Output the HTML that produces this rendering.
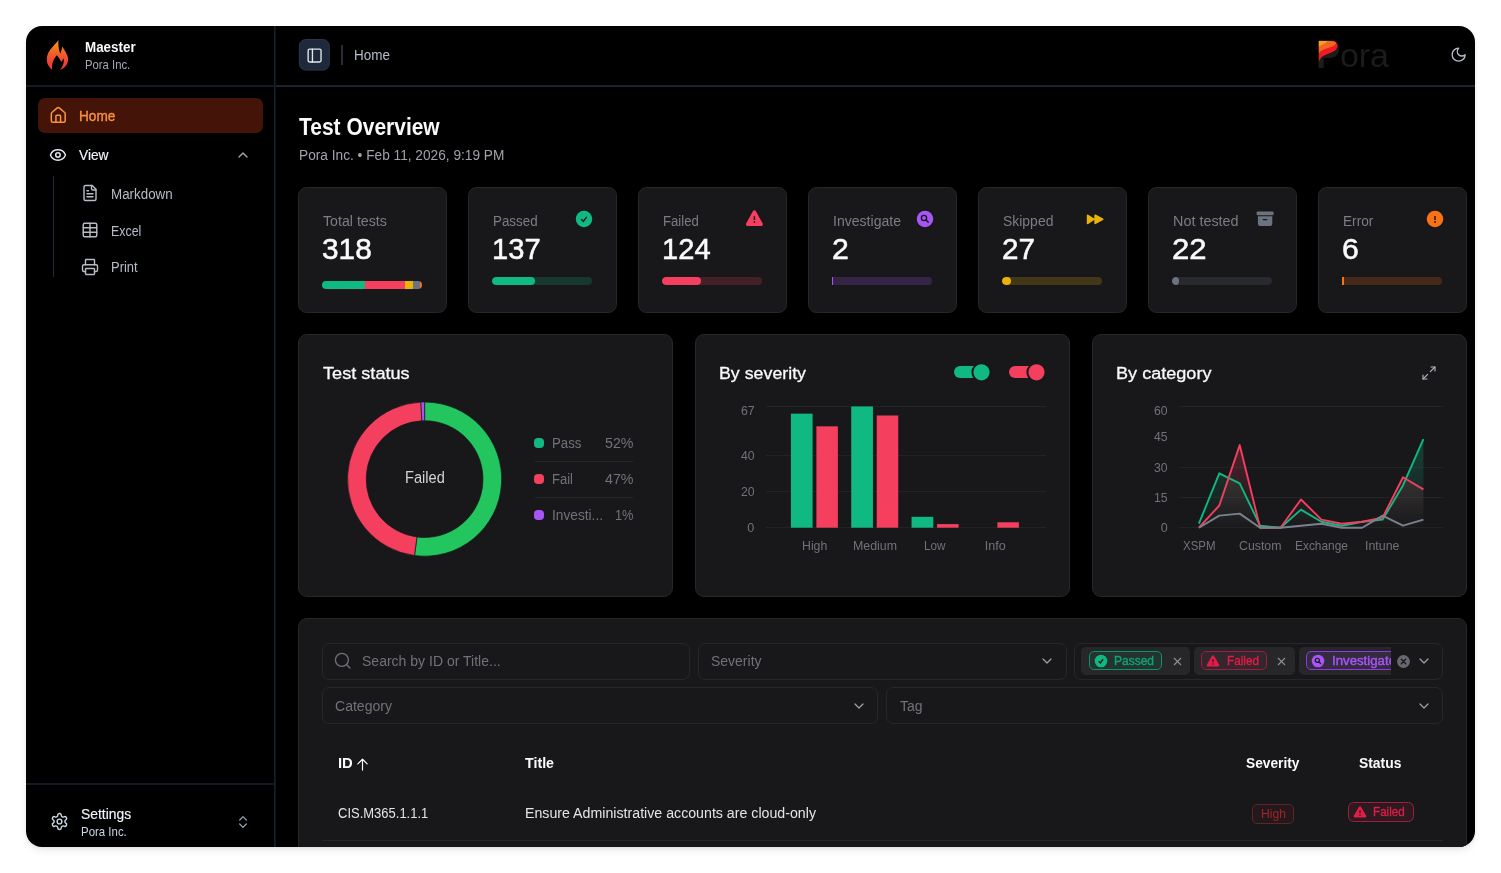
<!DOCTYPE html>
<html lang="en"><head><meta charset="utf-8"><title>Maester - Test Overview</title>
<style>
html,body{margin:0;padding:0;background:#fff;}
body{width:1501px;height:873px;position:relative;overflow:hidden;font-family:"Liberation Sans",sans-serif;}
body div,body svg,.t{position:absolute;}
.t{white-space:pre;line-height:1;transform-origin:0 0;}
svg{overflow:visible;}
</style></head><body>
<div style="left:26px;top:26px;width:1449px;height:821px;background:#000;border-radius:16px;box-shadow:0 4px 8px -1px rgba(0,0,0,.09),0 2px 4px -2px rgba(0,0,0,.09);overflow:hidden;"><div style="left:-26px;top:-26px;width:1501px;height:873px;">
<div style="left:26px;top:85px;width:248px;height:2px;background:#141a25;"></div>
<div style="left:276px;top:85px;width:1199px;height:2px;background:#1d232e;"></div>
<div style="left:26px;top:783px;width:248px;height:2px;background:#141a25;"></div>
<div style="left:274px;top:26px;width:1px;height:821px;background:#18202d;"></div>
<div style="left:275px;top:26px;width:1px;height:821px;background:#0d1119;"></div>
<svg style="left:36px;top:32px;" width="50" height="46" viewBox="0 0 949 873"><defs><linearGradient id="fg" x1="0" y1="0" x2="0" y2="1"><stop offset="0" stop-color="#f59e0b"/><stop offset=".45" stop-color="#f0602a"/><stop offset=".75" stop-color="#ef4036"/><stop offset="1" stop-color="#ef3b36"/></linearGradient></defs>
<path fill="url(#fg)" d="M425,150 C380,230 215,340 205,500 C200,600 250,680 310,718 C290,640 320,520 395,440 C430,480 465,530 480,568 C495,545 515,520 525,500 C540,590 500,680 450,720 C540,690 610,610 610,520 C610,430 540,350 500,275 C490,320 480,370 462,412 C430,340 420,240 425,150 Z"/></svg>
<span class="t" style="left:85.00px;top:41.00px;font-size:13.8px;color:#f8fafc;font-weight:700;transform:scaleX(0.9702);">Maester</span>
<span class="t" style="left:85.00px;top:59.10px;font-size:12.67px;color:#a3aab6;transform:scaleX(0.8923);">Pora Inc.</span>
<div style="left:38px;top:98px;width:225px;height:35px;background:#431407;border-radius:7px;"></div>
<svg style="left:48.95px;top:105.95px" width="18.5" height="18.5" viewBox="0 0 24 24" fill="none" stroke="#fb923c" stroke-width="2" stroke-linecap="round" stroke-linejoin="round"><path d="M15 21v-8a1 1 0 0 0-1-1h-4a1 1 0 0 0-1 1v8"/><path d="M3 10a2 2 0 0 1 .709-1.528l7-5.999a2 2 0 0 1 2.582 0l7 5.999A2 2 0 0 1 21 10v9a2 2 0 0 1-2 2H5a2 2 0 0 1-2-2z"/></svg>
<span class="t" style="left:79.20px;top:108.80px;font-size:14.73px;color:#fb923c;transform:scaleX(0.9245);-webkit-text-stroke:0.35px #fb923c;">Home</span>
<svg style="left:49.35px;top:145.75px" width="17.9" height="17.9" viewBox="0 0 24 24" fill="none" stroke="#e2e8f0" stroke-width="2" stroke-linecap="round" stroke-linejoin="round"><path d="M2.062 12.348a1 1 0 0 1 0-.696 10.75 10.75 0 0 1 19.876 0 1 1 0 0 1 0 .696 10.75 10.75 0 0 1-19.876 0"/><circle cx="12" cy="12" r="3"/></svg>
<span class="t" style="left:79.20px;top:147.60px;font-size:14.73px;color:#f1f5f9;transform:scaleX(0.9323);-webkit-text-stroke:0.15px #f1f5f9;">View</span>
<svg style="left:235px;top:146.8px" width="16" height="16" viewBox="0 0 24 24" fill="none" stroke="#a3a8b3" stroke-width="2" stroke-linecap="round" stroke-linejoin="round"><path d="m18 15-6-6-6 6"/></svg>
<div style="left:53.2px;top:176px;width:1.2px;height:101px;background:#1e293b;"></div>
<svg style="left:80.9px;top:184.3px" width="18" height="18" viewBox="0 0 24 24" fill="none" stroke="#b6bcc6" stroke-width="1.9" stroke-linecap="round" stroke-linejoin="round"><path d="M15 2H6a2 2 0 0 0-2 2v16a2 2 0 0 0 2 2h12a2 2 0 0 0 2-2V7Z"/><path d="M14 2v4a2 2 0 0 0 2 2h4"/><path d="M10 9H8"/><path d="M16 13H8"/><path d="M16 17H8"/></svg>
<span class="t" style="left:110.70px;top:186.70px;font-size:14.73px;color:#b6bcc6;transform:scaleX(0.9086);">Markdown</span>
<svg style="left:80.9px;top:221.3px" width="18" height="18" viewBox="0 0 24 24" fill="none" stroke="#b6bcc6" stroke-width="1.9" stroke-linecap="round" stroke-linejoin="round"><path d="M12 3v18"/><rect width="18" height="18" x="3" y="3" rx="2"/><path d="M3 9h18"/><path d="M3 15h18"/></svg>
<span class="t" style="left:110.70px;top:223.50px;font-size:14.73px;color:#b6bcc6;transform:scaleX(0.8417);">Excel</span>
<svg style="left:80.9px;top:258.3px" width="18" height="18" viewBox="0 0 24 24" fill="none" stroke="#b6bcc6" stroke-width="1.9" stroke-linecap="round" stroke-linejoin="round"><path d="M6 18H4a2 2 0 0 1-2-2v-5a2 2 0 0 1 2-2h16a2 2 0 0 1 2 2v5a2 2 0 0 1-2 2h-2"/><path d="M6 9V3a1 1 0 0 1 1-1h10a1 1 0 0 1 1 1v6"/><rect x="6" y="14" width="12" height="8" rx="1"/></svg>
<span class="t" style="left:110.70px;top:260.00px;font-size:14.73px;color:#b6bcc6;transform:scaleX(0.8822);">Print</span>
<svg style="left:49.7px;top:811.7px" width="19" height="19" viewBox="0 0 24 24" fill="none" stroke="#cbd5e1" stroke-width="1.8" stroke-linecap="round" stroke-linejoin="round"><path d="M12.22 2h-.44a2 2 0 0 0-2 2v.18a2 2 0 0 1-1 1.73l-.43.25a2 2 0 0 1-2 0l-.15-.08a2 2 0 0 0-2.73.73l-.22.38a2 2 0 0 0 .73 2.73l.15.1a2 2 0 0 1 1 1.72v.51a2 2 0 0 1-1 1.74l-.15.09a2 2 0 0 0-.73 2.73l.22.38a2 2 0 0 0 2.73.73l.15-.08a2 2 0 0 1 2 0l.43.25a2 2 0 0 1 1 1.73V20a2 2 0 0 0 2 2h.44a2 2 0 0 0 2-2v-.18a2 2 0 0 1 1-1.73l.43-.25a2 2 0 0 1 2 0l.15.08a2 2 0 0 0 2.73-.73l.22-.39a2 2 0 0 0-.73-2.73l-.15-.08a2 2 0 0 1-1-1.74v-.5a2 2 0 0 1 1-1.74l.15-.09a2 2 0 0 0 .73-2.73l-.22-.38a2 2 0 0 0-2.73-.73l-.15.08a2 2 0 0 1-2 0l-.43-.25a2 2 0 0 1-1-1.73V4a2 2 0 0 0-2-2z"/><circle cx="12" cy="12" r="3"/></svg>
<span class="t" style="left:81.30px;top:806.90px;font-size:14.73px;color:#f1f5f9;transform:scaleX(0.9420);-webkit-text-stroke:0.15px #f1f5f9;">Settings</span>
<span class="t" style="left:81.30px;top:825.90px;font-size:12.67px;color:#cbd5e1;transform:scaleX(0.9041);">Pora Inc.</span>
<svg style="left:235.1px;top:813.5px" width="16" height="16" viewBox="0 0 24 24" fill="none" stroke="#94a3b8" stroke-width="1.8" stroke-linecap="round" stroke-linejoin="round"><path d="m7 15 5 5 5-5"/><path d="m7 9 5-5 5 5"/></svg>
<svg style="left:298px;top:38px;" width="33" height="34" viewBox="0 0 33 34"><rect x="1.3" y="1.5" width="30" height="30.6" rx="6.5" fill="#1e293b" stroke="#2b3749" stroke-width="1"/></svg>
<svg style="left:305.6px;top:46.7px" width="17.2" height="17.2" viewBox="0 0 24 24" fill="none" stroke="#e2e8f0" stroke-width="1.9" stroke-linecap="round" stroke-linejoin="round"><rect width="18" height="18" x="3" y="3" rx="2"/><path d="M9 3v18"/></svg>
<div style="left:341px;top:45px;width:2px;height:20px;background:#262d3a;"></div>
<span class="t" style="left:354.00px;top:47.80px;font-size:14.73px;color:#b6bcc6;transform:scaleX(0.9168);">Home</span>
<span class="t" style="left:1316.2px;top:34.1px;font-size:40.6px;font-weight:700;color:#1c1c1c;transform:scaleX(.9);transform-origin:0 0;">P</span>
<span class="t" style="left:1339.90px;top:37.60px;font-size:33.99px;color:#1b1b1b;">ora</span>
<svg style="left:1310px;top:34px;" width="90" height="42" viewBox="0 0 1501 700"><path fill="#ed1c24" d="M148,116 L350,116 C420,116 460,150 460,200 C455,260 400,300 330,320 C230,350 180,380 148,460 Z"/>
<path fill="#f26522" d="M148,116 L350,116 C400,116 430,130 440,150 C420,190 380,210 300,235 C220,260 175,280 148,320 Z"/>
<path fill="#f9a01b" d="M148,116 L270,116 C280,120 285,125 290,130 C250,160 190,170 148,215 Z"/></svg>
<svg style="left:1449.55px;top:46.25px" width="17.3" height="17.3" viewBox="0 0 24 24" fill="none" stroke="#b4b9c6" stroke-width="1.9" stroke-linecap="round" stroke-linejoin="round"><path d="M12 3a6 6 0 0 0 9 9 9 9 0 1 1-9-9Z"/></svg>
<span class="t" style="left:299.40px;top:114.50px;font-size:23.9px;color:#fafafa;font-weight:700;transform:scaleX(0.8780);">Test Overview</span>
<span class="t" style="left:299.40px;top:147.50px;font-size:14.73px;color:#a1a1aa;transform:scaleX(0.9299);">Pora Inc. • Feb 11, 2026, 9:19 PM</span>
<div style="left:298px;top:187px;width:148.5px;height:125.5px;background:#18181b;border:1px solid #27272a;border-radius:8.5px;box-sizing:border-box;"></div>
<span class="t" style="left:322.60px;top:214.40px;font-size:14.73px;color:#7c7c86;transform:scaleX(0.9643);">Total tests</span>
<span class="t" style="left:322.00px;top:234.00px;font-size:30.18px;color:#fafafa;transform:scaleX(0.9872);-webkit-text-stroke:0.55px #fafafa;">318</span>
<div style="left:322px;top:281px;width:100.3px;height:8px;border-radius:4px;overflow:hidden;"><div style="left:0px;top:0;width:43.6px;height:8px;background:#10b981"></div><div style="left:43.3px;top:0;width:39.5px;height:8px;background:#f43f5e"></div><div style="left:82.5px;top:0;width:9.1px;height:8px;background:#eab308"></div><div style="left:91.3px;top:0;width:7.2px;height:8px;background:#6b7280"></div><div style="left:98.2px;top:0;width:2.4px;height:8px;background:#f97316"></div></div>
<div style="left:468px;top:187px;width:148.5px;height:125.5px;background:#18181b;border:1px solid #27272a;border-radius:8.5px;box-sizing:border-box;"></div>
<span class="t" style="left:492.60px;top:214.40px;font-size:14.73px;color:#7c7c86;transform:scaleX(0.9085);">Passed</span>
<span class="t" style="left:492.00px;top:234.00px;font-size:30.18px;color:#fafafa;transform:scaleX(0.9654);-webkit-text-stroke:0.55px #fafafa;">137</span>
<div style="left:492px;top:277px;width:100px;height:8px;border-radius:4px;overflow:hidden;background:#10b98133;"><div style="left:0;top:0;width:43px;height:8px;background:#10b981;border-radius:4px;"></div></div>
<div style="left:638px;top:187px;width:148.5px;height:125.5px;background:#18181b;border:1px solid #27272a;border-radius:8.5px;box-sizing:border-box;"></div>
<span class="t" style="left:662.60px;top:214.40px;font-size:14.73px;color:#7c7c86;transform:scaleX(0.8929);">Failed</span>
<span class="t" style="left:662.00px;top:234.00px;font-size:30.18px;color:#fafafa;transform:scaleX(0.9654);-webkit-text-stroke:0.55px #fafafa;">124</span>
<div style="left:662px;top:277px;width:100px;height:8px;border-radius:4px;overflow:hidden;background:#f43f5e33;"><div style="left:0;top:0;width:39px;height:8px;background:#f43f5e;border-radius:4px;"></div></div>
<div style="left:808px;top:187px;width:148.5px;height:125.5px;background:#18181b;border:1px solid #27272a;border-radius:8.5px;box-sizing:border-box;"></div>
<span class="t" style="left:832.60px;top:214.40px;font-size:14.73px;color:#7c7c86;transform:scaleX(0.9552);">Investigate</span>
<span class="t" style="left:832.00px;top:234.00px;font-size:30.18px;color:#fafafa;-webkit-text-stroke:0.55px #fafafa;">2</span>
<div style="left:832px;top:277px;width:100px;height:8px;border-radius:0 4px 4px 0;overflow:hidden;background:#a855f733;"><div style="left:0;top:0;width:1px;height:8px;background:#a855f7;"></div></div>
<div style="left:978px;top:187px;width:148.5px;height:125.5px;background:#18181b;border:1px solid #27272a;border-radius:8.5px;box-sizing:border-box;"></div>
<span class="t" style="left:1002.60px;top:214.40px;font-size:14.73px;color:#7c7c86;transform:scaleX(0.9473);">Skipped</span>
<span class="t" style="left:1002.00px;top:234.00px;font-size:30.18px;color:#fafafa;transform:scaleX(0.9832);-webkit-text-stroke:0.55px #fafafa;">27</span>
<div style="left:1002px;top:277px;width:100px;height:8px;border-radius:4px;overflow:hidden;background:#eab30833;"><div style="left:0;top:0;width:8.5px;height:8px;background:#eab308;border-radius:4px;"></div></div>
<div style="left:1148px;top:187px;width:148.5px;height:125.5px;background:#18181b;border:1px solid #27272a;border-radius:8.5px;box-sizing:border-box;"></div>
<span class="t" style="left:1172.60px;top:214.40px;font-size:14.73px;color:#7c7c86;transform:scaleX(0.9777);">Not tested</span>
<span class="t" style="left:1172.00px;top:234.00px;font-size:30.18px;color:#fafafa;transform:scaleX(1.0309);-webkit-text-stroke:0.55px #fafafa;">22</span>
<div style="left:1172px;top:277px;width:100px;height:8px;border-radius:4px;overflow:hidden;background:#6b728033;"><div style="left:0;top:0;width:7px;height:8px;background:#6b7280;border-radius:4px;"></div></div>
<div style="left:1318px;top:187px;width:148.5px;height:125.5px;background:#18181b;border:1px solid #27272a;border-radius:8.5px;box-sizing:border-box;"></div>
<span class="t" style="left:1342.60px;top:214.40px;font-size:14.73px;color:#7c7c86;transform:scaleX(0.9291);">Error</span>
<span class="t" style="left:1342.00px;top:234.00px;font-size:30.18px;color:#fafafa;-webkit-text-stroke:0.55px #fafafa;">6</span>
<div style="left:1342px;top:277px;width:100px;height:8px;border-radius:0 4px 4px 0;overflow:hidden;background:#f9731633;"><div style="left:0;top:0;width:2px;height:8px;background:#f97316;"></div></div>
<svg style="left:574.1px;top:208.8px;" width="20" height="20" viewBox="0 0 20 20"><circle cx="10" cy="10" r="8.25" fill="#10b981"/><path d="M7.2 10.3l2.2 2.1 3.3-4.5" fill="none" stroke="#18181b" stroke-width="1.5" /></svg>
<svg style="left:744.1px;top:208.8px;" width="20" height="20" viewBox="0 0 20 20"><path d="M10.4 2.9 L17.3 15.3 L3.5 15.3 Z" fill="#f43f5e" stroke="#f43f5e" stroke-width="3.2" stroke-linejoin="round"/><path d="M10.4 7.3v3.8" stroke="#18181b" stroke-width="1.5" fill="none"/><circle cx="10.4" cy="13" r=".9" fill="#18181b"/></svg>
<svg style="left:914.8px;top:208.8px;" width="20" height="20" viewBox="0 0 20 20"><circle cx="10" cy="10" r="8.25" fill="#a855f7"/><circle cx="9" cy="9" r="2.6" fill="none" stroke="#18181b" stroke-width="1.4"/><path d="M11 11l2.2 2.1" stroke="#18181b" stroke-width="1.5" stroke-linecap="round"/></svg>
<svg style="left:1084.1px;top:208.8px;" width="20" height="20" viewBox="0 0 20 20"><path d="M3.7 6.4 L9.7 10.3 L3.7 14.2 Z M11.2 6.4 L18.6 10.3 L11.2 14.2 Z" fill="#eab308" stroke="#eab308" stroke-width="1.8" stroke-linejoin="round"/></svg>
<svg style="left:1254.5px;top:208.8px;" width="20" height="20" viewBox="0 0 20 20"><rect x="1.6" y="2.5" width="17" height="3.7" rx="1.2" fill="#6b7280"/><path d="M2.9 7.2h14.4v7.6a2.2 2.2 0 0 1-2.2 2.2H5.1a2.2 2.2 0 0 1-2.2-2.2z" fill="#6b7280"/><path d="M8.3 10.6h3.6" stroke="#18181b" stroke-width="1.3" stroke-linecap="round"/></svg>
<svg style="left:1425px;top:208.8px;" width="20" height="20" viewBox="0 0 20 20"><circle cx="10" cy="10" r="8.25" fill="#f97316"/><path d="M10 7.1v4" stroke="#18181b" stroke-width="1.5"/><circle cx="10" cy="13" r=".9" fill="#18181b"/></svg>
<div style="left:298px;top:334px;width:375px;height:263px;background:#18181b;border:1px solid #27272a;border-radius:9px;box-sizing:border-box;"></div>
<div style="left:695px;top:334px;width:375px;height:263px;background:#18181b;border:1px solid #27272a;border-radius:9px;box-sizing:border-box;"></div>
<div style="left:1092px;top:334px;width:375px;height:263px;background:#18181b;border:1px solid #27272a;border-radius:9px;box-sizing:border-box;"></div>
<span class="t" style="left:322.60px;top:364.60px;font-size:17.1px;color:#fafafa;transform:scaleX(1.0610);-webkit-text-stroke:0.3px #fafafa;">Test status</span>
<span class="t" style="left:719.20px;top:364.60px;font-size:17.1px;color:#fafafa;transform:scaleX(1.0407);-webkit-text-stroke:0.3px #fafafa;">By severity</span>
<span class="t" style="left:1116.10px;top:364.60px;font-size:17.1px;color:#fafafa;transform:scaleX(1.0580);-webkit-text-stroke:0.3px #fafafa;">By category</span>
<svg style="left:0px;top:0px;" width="1501" height="873" viewBox="0 0 1501 873"><path d="M424.60 402.00 A77.1 77.1 0 1 1 414.50 555.54 L416.95 537.00 A58.4 58.4 0 1 0 424.60 420.70 Z" fill="#22c55e" stroke="#18181b" stroke-width=".7"/><path d="M414.50 555.54 A77.1 77.1 0 0 1 420.92 402.09 L421.81 420.77 A58.4 58.4 0 0 0 416.95 537.00 Z" fill="#f43f5e" stroke="#18181b" stroke-width=".7"/><path d="M420.92 402.09 A77.1 77.1 0 0 1 424.60 402.00 L424.60 420.70 A58.4 58.4 0 0 0 421.81 420.77 Z" fill="#a855f7" stroke="#18181b" stroke-width=".7"/></svg>
<span class="t" style="left:404.70px;top:470.30px;font-size:16.79px;color:#d4d4d8;transform:scaleX(0.8705);">Failed</span>
<div style="left:534.3px;top:438.4px;width:10px;height:10px;background:#10b981;border-radius:4px;"></div>
<span class="t" style="left:552.40px;top:436.30px;font-size:14.73px;color:#71717a;transform:scaleX(0.9012);">Pass</span>
<span class="t" style="left:604.70px;top:436.30px;font-size:14.73px;color:#71717a;transform:scaleX(0.9671);">52%</span>
<div style="left:534.7px;top:461.2px;width:98.5px;height:1px;background:#27272a;"></div>
<div style="left:534.3px;top:474.4px;width:10px;height:10px;background:#f43f5e;border-radius:4px;"></div>
<span class="t" style="left:552.40px;top:472.30px;font-size:14.73px;color:#71717a;transform:scaleX(0.8854);">Fail</span>
<span class="t" style="left:604.70px;top:472.30px;font-size:14.73px;color:#71717a;transform:scaleX(0.9671);">47%</span>
<div style="left:534.7px;top:497.2px;width:98.5px;height:1px;background:#27272a;"></div>
<div style="left:534.3px;top:510.4px;width:10px;height:10px;background:#a855f7;border-radius:4px;"></div>
<span class="t" style="left:552.40px;top:508.30px;font-size:14.73px;color:#71717a;transform:scaleX(0.9304);">Investi...</span>
<span class="t" style="left:614.70px;top:508.30px;font-size:14.73px;color:#71717a;transform:scaleX(0.8693);">1%</span>
<div style="left:766px;top:405.73px;width:279.5px;height:1px;background:#232326;"></div>
<span class="t" style="left:740.60px;top:404.70px;font-size:12.57px;color:#71717a;transform:scaleX(0.9725);">67</span>
<div style="left:766px;top:454.6px;width:279.5px;height:1px;background:#232326;"></div>
<span class="t" style="left:740.60px;top:449.70px;font-size:12.57px;color:#71717a;transform:scaleX(0.9725);">40</span>
<div style="left:766px;top:490.8px;width:279.5px;height:1px;background:#232326;"></div>
<span class="t" style="left:740.60px;top:485.90px;font-size:12.57px;color:#71717a;transform:scaleX(0.9725);">20</span>
<div style="left:766px;top:527px;width:279.5px;height:1px;background:#232326;"></div>
<span class="t" style="left:747.20px;top:522.10px;font-size:12.57px;color:#71717a;">0</span>
<span class="t" style="left:801.65px;top:540.00px;font-size:12.57px;color:#71717a;transform:scaleX(0.9790);">High</span>
<span class="t" style="left:852.63px;top:540.00px;font-size:12.57px;color:#71717a;transform:scaleX(0.9846);">Medium</span>
<span class="t" style="left:924.21px;top:540.00px;font-size:12.57px;color:#71717a;transform:scaleX(0.9329);">Low</span>
<span class="t" style="left:984.84px;top:540.00px;font-size:12.57px;color:#71717a;">Info</span>
<svg style="left:0px;top:0px;" width="1501" height="873" viewBox="0 0 1501 873"><rect x="790.90" y="413.67" width="21.7" height="114.03" fill="#10b981"/><rect x="816.40" y="426.34" width="21.5" height="101.36" fill="#f43f5e"/><rect x="851.23" y="406.43" width="21.7" height="121.27" fill="#10b981"/><rect x="876.73" y="415.48" width="21.5" height="112.22" fill="#f43f5e"/><rect x="911.56" y="516.84" width="21.7" height="10.86" fill="#10b981"/><rect x="937.06" y="524.08" width="21.5" height="3.62" fill="#f43f5e"/><rect x="997.39" y="522.27" width="21.5" height="5.43" fill="#f43f5e"/></svg>
<div style="left:954px;top:366.3px;width:30px;height:12px;background:#10b981;border-radius:6px;"></div>
<svg style="left:971px;top:362px" width="21" height="21"><circle cx="10.5" cy="10.35" r="9.1" fill="#10b981" stroke="#18181b" stroke-width="2"/></svg>
<div style="left:1008.5px;top:366.3px;width:30px;height:12px;background:#f43f5e;border-radius:6px;"></div>
<svg style="left:1025.5px;top:362px" width="21" height="21"><circle cx="10.5" cy="10.35" r="9.1" fill="#f43f5e" stroke="#18181b" stroke-width="2"/></svg>
<div style="left:1179px;top:406.118px;width:263.7px;height:1px;background:#232326;"></div>
<span class="t" style="left:1154.20px;top:404.70px;font-size:12.57px;color:#71717a;transform:scaleX(0.9725);">60</span>
<span class="t" style="left:1154.20px;top:431.44px;font-size:12.57px;color:#71717a;transform:scaleX(0.9725);">45</span>
<div style="left:1179px;top:466.559px;width:263.7px;height:1px;background:#232326;"></div>
<span class="t" style="left:1154.20px;top:461.66px;font-size:12.57px;color:#71717a;transform:scaleX(0.9725);">30</span>
<div style="left:1179px;top:496.78px;width:263.7px;height:1px;background:#232326;"></div>
<span class="t" style="left:1154.20px;top:491.88px;font-size:12.57px;color:#71717a;transform:scaleX(0.9725);">15</span>
<div style="left:1179px;top:527px;width:263.7px;height:1px;background:#232326;"></div>
<span class="t" style="left:1160.80px;top:522.10px;font-size:12.57px;color:#71717a;">0</span>
<svg style="left:0px;top:0px;" width="1501" height="873" viewBox="0 0 1501 873"><defs><linearGradient id="ga" gradientUnits="userSpaceOnUse" x1="0" y1="435.024" x2="0" y2="527.7"><stop offset="0" stop-color="#10b981" stop-opacity=".28"/><stop offset="1" stop-color="#10b981" stop-opacity="0"/></linearGradient><linearGradient id="ra" gradientUnits="userSpaceOnUse" x1="0" y1="435.024" x2="0" y2="527.7"><stop offset="0" stop-color="#f43f5e" stop-opacity=".28"/><stop offset="1" stop-color="#f43f5e" stop-opacity="0"/></linearGradient><linearGradient id="oa" gradientUnits="userSpaceOnUse" x1="0" y1="435.024" x2="0" y2="527.7"><stop offset="0" stop-color="#6b7280" stop-opacity=".28"/><stop offset="1" stop-color="#6b7280" stop-opacity="0"/></linearGradient></defs><polygon points="1198.9,523.7 1219.3,473.3 1239.7,483.4 1260.1,525.7 1280.5,527.7 1301.0,509.6 1321.4,521.7 1341.8,525.7 1362.2,521.7 1382.6,519.6 1403.0,485.4 1423.4,439.1 1423.4,527.7 1198.9,527.7" fill="url(#ga)"/><polygon points="1198.9,527.7 1219.3,505.5 1239.7,445.1 1260.1,527.7 1280.5,527.7 1301.0,499.5 1321.4,519.6 1341.8,523.7 1362.2,521.7 1382.6,517.6 1403.0,477.3 1423.4,489.4 1423.4,527.7 1198.9,527.7" fill="url(#ra)"/><polygon points="1198.9,527.7 1219.3,515.6 1239.7,513.6 1260.1,527.7 1280.5,527.7 1301.0,525.7 1321.4,523.7 1341.8,527.7 1362.2,527.7 1382.6,515.6 1403.0,525.7 1423.4,519.6 1423.4,527.7 1198.9,527.7" fill="url(#oa)"/><polyline points="1198.9,523.7 1219.3,473.3 1239.7,483.4 1260.1,525.7 1280.5,527.7 1301.0,509.6 1321.4,521.7 1341.8,525.7 1362.2,521.7 1382.6,519.6 1403.0,485.4 1423.4,439.1" fill="none" stroke="#10b981" stroke-width="1.9" stroke-linejoin="round" stroke-linecap="butt"/><polyline points="1198.9,527.7 1219.3,505.5 1239.7,445.1 1260.1,527.7 1280.5,527.7 1301.0,499.5 1321.4,519.6 1341.8,523.7 1362.2,521.7 1382.6,517.6 1403.0,477.3 1423.4,489.4" fill="none" stroke="#f43f5e" stroke-width="1.9" stroke-linejoin="round" stroke-linecap="butt"/><polyline points="1198.9,527.7 1219.3,515.6 1239.7,513.6 1260.1,527.7 1280.5,527.7 1301.0,525.7 1321.4,523.7 1341.8,527.7 1362.2,527.7 1382.6,515.6 1403.0,525.7 1423.4,519.6" fill="none" stroke="#7b8190" stroke-width="1.9" stroke-linejoin="round" stroke-linecap="butt"/></svg>
<span class="t" style="left:1182.65px;top:540.00px;font-size:12.57px;color:#71717a;transform:scaleX(0.9127);">XSPM</span>
<span class="t" style="left:1238.88px;top:540.00px;font-size:12.57px;color:#71717a;transform:scaleX(0.9816);">Custom</span>
<span class="t" style="left:1294.86px;top:540.00px;font-size:12.57px;color:#71717a;transform:scaleX(0.9485);">Exchange</span>
<span class="t" style="left:1365.34px;top:540.00px;font-size:12.57px;color:#71717a;transform:scaleX(0.9875);">Intune</span>
<svg style="left:1421.2px;top:364.7px" width="16" height="16" viewBox="0 0 24 24" fill="none" stroke="#b3b8c6" stroke-width="1.6" stroke-linecap="round" stroke-linejoin="round"><polyline points="15 3 21 3 21 9"/><polyline points="9 21 3 21 3 15"/><line x1="21" x2="14" y1="3" y2="10"/><line x1="3" x2="10" y1="21" y2="14"/></svg>
<div style="left:298px;top:618px;width:1169px;height:240px;background:#18181b;border:1px solid #27272a;border-radius:9px;box-sizing:border-box;"></div>
<div style="left:322px;top:643px;width:368px;height:36.5px;border:1px solid #27272a;border-radius:7px;box-sizing:border-box;"></div>
<svg style="left:332.6px;top:651.3px" width="19.4" height="19.4" viewBox="0 0 24 24" fill="none" stroke="#71717a" stroke-width="1.6" stroke-linecap="round" stroke-linejoin="round"><circle cx="11" cy="11" r="8"/><path d="m21 21-4.3-4.3"/></svg>
<span class="t" style="left:362.00px;top:654.00px;font-size:14.73px;color:#71717a;transform:scaleX(0.9525);">Search by ID or Title...</span>
<div style="left:698px;top:643px;width:368.5px;height:36.5px;border:1px solid #27272a;border-radius:7px;box-sizing:border-box;"></div>
<span class="t" style="left:710.90px;top:654.00px;font-size:14.73px;color:#71717a;transform:scaleX(0.9498);">Severity</span>
<svg style="left:1039px;top:653.3px" width="16" height="16" viewBox="0 0 24 24" fill="none" stroke="#a1a1aa" stroke-width="1.8" stroke-linecap="round" stroke-linejoin="round"><path d="m6 9 6 6 6-6"/></svg>
<div style="left:1074.3px;top:643px;width:368.3px;height:36.5px;border:1px solid #27272a;border-radius:7px;box-sizing:border-box;"></div>
<div style="left:322px;top:687px;width:556px;height:37px;border:1px solid #27272a;border-radius:7px;box-sizing:border-box;"></div>
<span class="t" style="left:334.80px;top:698.70px;font-size:14.73px;color:#71717a;transform:scaleX(0.9542);">Category</span>
<svg style="left:851px;top:698px" width="16" height="16" viewBox="0 0 24 24" fill="none" stroke="#a1a1aa" stroke-width="1.8" stroke-linecap="round" stroke-linejoin="round"><path d="m6 9 6 6 6-6"/></svg>
<div style="left:886px;top:687px;width:556.5px;height:37px;border:1px solid #27272a;border-radius:7px;box-sizing:border-box;"></div>
<span class="t" style="left:899.60px;top:698.70px;font-size:14.73px;color:#71717a;transform:scaleX(0.9480);">Tag</span>
<svg style="left:1415.5px;top:698px" width="16" height="16" viewBox="0 0 24 24" fill="none" stroke="#a1a1aa" stroke-width="1.8" stroke-linecap="round" stroke-linejoin="round"><path d="m6 9 6 6 6-6"/></svg>
<div style="left:1081px;top:647px;width:108.8px;height:28.3px;background:#27272a;border-radius:5px;"></div>
<div style="left:1089px;top:651.3px;width:73.3px;height:19.2px;border:1px solid #059669;border-radius:5px;box-sizing:border-box;background:#0596691a;"></div>
<svg style="left:1093.6px;top:654px" width="14" height="14" viewBox="0 0 20 20"><circle cx="10" cy="10" r="9" fill="#10b981"/><path d="M6.6 10.4l2.4 2.3 4-5.2" fill="none" stroke="#18181b" stroke-width="1.9"/></svg>
<span class="t" style="left:1114.20px;top:655.20px;font-size:12.67px;color:#10a372;transform:scaleX(0.9474);-webkit-text-stroke:0.4px #10a372;">Passed</span>
<svg style="left:1170.9px;top:654.7px" width="13" height="13" viewBox="0 0 24 24" fill="none" stroke="#8f8f98" stroke-width="2" stroke-linecap="round" stroke-linejoin="round"><path d="M18 6 6 18"/><path d="m6 6 12 12"/></svg>
<div style="left:1193.8px;top:647px;width:100.8px;height:28.3px;background:#27272a;border-radius:5px;"></div>
<div style="left:1201.4px;top:651.3px;width:66px;height:19.2px;border:1px solid #a01d40;border-radius:5px;box-sizing:border-box;background:#a01d401a;"></div>
<svg style="left:1206.2px;top:653.9px" width="14" height="14" viewBox="0 0 20 20"><path d="M10 3.6 L17.3 16.1 L2.7 16.1 Z" fill="#e11d48" stroke="#e11d48" stroke-width="3.6" stroke-linejoin="round"/><path d="M10 7.6v4" stroke="#18181b" stroke-width="1.8" fill="none"/><circle cx="10" cy="14.2" r="1.1" fill="#18181b"/></svg>
<span class="t" style="left:1227.00px;top:655.20px;font-size:12.67px;color:#e11d48;transform:scaleX(0.9280);-webkit-text-stroke:0.4px #e11d48;">Failed</span>
<svg style="left:1275.2px;top:654.7px" width="13" height="13" viewBox="0 0 24 24" fill="none" stroke="#8f8f98" stroke-width="2" stroke-linecap="round" stroke-linejoin="round"><path d="M18 6 6 18"/><path d="m6 6 12 12"/></svg>
<div style="left:1298.5px;top:643.5px;width:92.4px;height:35.5px;overflow:hidden;"><div style="left:0;top:3.5px;width:120px;height:28.3px;background:#27272a;border-radius:5px;"></div><div style="left:7.6px;top:7.8px;width:104px;height:19.2px;border:1px solid #9333ea;border-radius:5px;box-sizing:border-box;background:#a855f71a;"></div><svg style="left:12.2px;top:10.6px" width="14" height="14" viewBox="0 0 20 20"><circle cx="10" cy="10" r="9" fill="#a855f7"/><circle cx="9" cy="9" r="2.9" fill="none" stroke="#18181b" stroke-width="1.7"/><path d="M11.2 11.2l2.5 2.4" stroke="#18181b" stroke-width="1.8" stroke-linecap="round"/></svg><span class="t" style="left:33.60px;top:11.70px;font-size:12.67px;color:#a855f7;transform:scaleX(1.0454);-webkit-text-stroke:0.4px #a855f7;">Investigate</span></div>
<svg style="left:1397.1px;top:654.8px;" width="13" height="13" viewBox="0 0 13 13"><circle cx="6.5" cy="6.5" r="6.4" fill="#686870"/><path d="M4.3 4.3l4.4 4.4M8.7 4.3l-4.4 4.4" stroke="#18181b" stroke-width="1.4" stroke-linecap="round"/></svg>
<svg style="left:1415.6px;top:653.3px" width="16" height="16" viewBox="0 0 24 24" fill="none" stroke="#a1a1aa" stroke-width="1.8" stroke-linecap="round" stroke-linejoin="round"><path d="m6 9 6 6 6-6"/></svg>
<span class="t" style="left:337.60px;top:756.30px;font-size:14.73px;color:#fafafa;font-weight:700;transform:scaleX(1.0055);">ID</span>
<svg style="left:354.3px;top:755.9px" width="17" height="17" viewBox="0 0 24 24" fill="none" stroke="#fafafa" stroke-width="1.6" stroke-linecap="round" stroke-linejoin="round"><path d="m5.4 11.2 6.6-6.6 6.6 6.6"/><path d="M12 19.9V4.6"/></svg>
<span class="t" style="left:524.60px;top:756.30px;font-size:14.73px;color:#fafafa;font-weight:700;transform:scaleX(0.9667);">Title</span>
<span class="t" style="left:1246.25px;top:756.30px;font-size:14.73px;color:#fafafa;font-weight:700;transform:scaleX(0.9340);">Severity</span>
<span class="t" style="left:1359.30px;top:756.30px;font-size:14.73px;color:#fafafa;font-weight:700;transform:scaleX(0.9425);">Status</span>
<span class="t" style="left:337.60px;top:806.30px;font-size:14.73px;color:#e4e4e7;transform:scaleX(0.8829);">CIS.M365.1.1.1</span>
<span class="t" style="left:524.60px;top:806.30px;font-size:14.73px;color:#e4e4e7;transform:scaleX(0.9639);">Ensure Administrative accounts are cloud-only</span>
<div style="left:1252.2px;top:804.3px;width:42px;height:19.3px;border:1px solid #612424;border-radius:5px;box-sizing:border-box;background:#7f1d1d1c;"></div>
<span class="t" style="left:1260.70px;top:808.20px;font-size:12.67px;color:#a32424;transform:scaleX(0.9604);">High</span>
<div style="left:1347.7px;top:802.3px;width:66.2px;height:19.4px;border:1px solid #a01d40;border-radius:5.5px;box-sizing:border-box;background:#f43f5e17;"></div>
<svg style="left:1352.5px;top:804.6px" width="14" height="14" viewBox="0 0 20 20"><path d="M10 3.6 L17.3 16.1 L2.7 16.1 Z" fill="#e11d48" stroke="#e11d48" stroke-width="3.6" stroke-linejoin="round"/><path d="M10 7.6v4" stroke="#18181b" stroke-width="1.8" fill="none"/><circle cx="10" cy="14.2" r="1.1" fill="#18181b"/></svg>
<span class="t" style="left:1373.30px;top:806.40px;font-size:12.67px;color:#e11d48;transform:scaleX(0.9222);-webkit-text-stroke:0.3px #e11d48;">Failed</span>
<div style="left:322px;top:840px;width:1120.5px;height:1px;background:#27272a;"></div>
</div></div>
</body></html>
